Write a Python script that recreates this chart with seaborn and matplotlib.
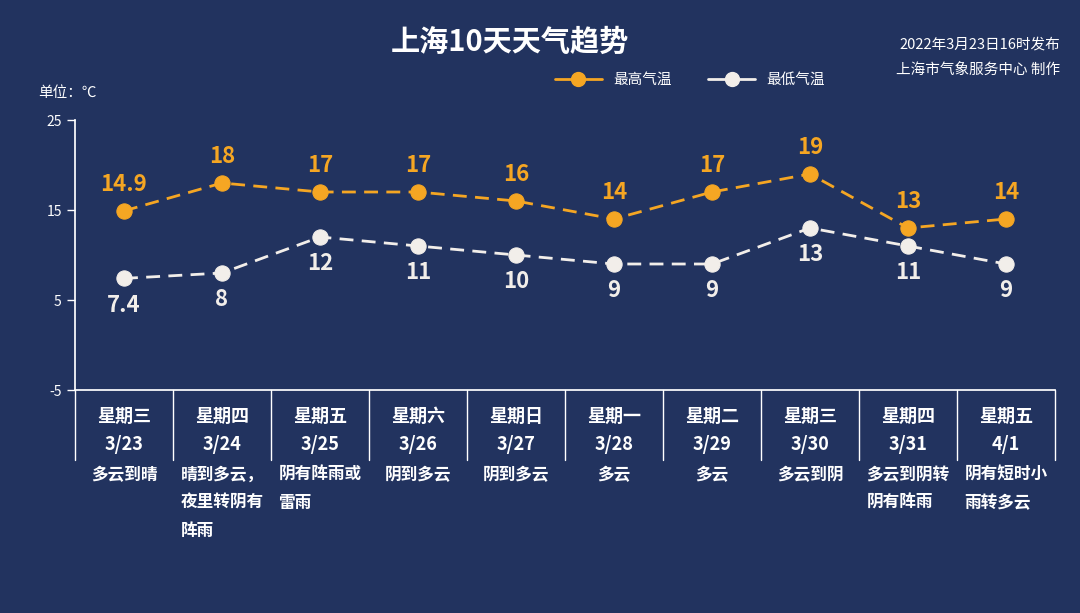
import matplotlib
matplotlib.use("Agg")
import matplotlib.pyplot as plt
import seaborn as sns
import pandas as pd
from matplotlib.lines import Line2D

weekdays = ["星期三","星期四","星期五","星期六","星期日","星期一","星期二","星期三","星期四","星期五"]
dates = ["3/23","3/24","3/25","3/26","3/27","3/28","3/29","3/30","3/31","4/1"]
weather = ["多云到晴","晴到多云，\n夜里转阴有\n阵雨","阴有阵雨或\n雷雨","阴到多云","阴到多云","多云","多云","多云到阴","多云到阴转\n阴有阵雨","阴有短时小\n雨转多云"]
high = [14.9,18,17,17,16,14,17,19,13,14]
low = [7.4,8,12,11,10,9,9,13,11,9]
high_lbl = ["14.9","18","17","17","16","14","17","19","13","14"]
low_lbl = ["7.4","8","12","11","10","9","9","13","11","9"]
yticks = [-5,5,15,25]

sns.set_theme(style="white")
plt.rcParams['font.family'] = ['Noto Sans CJK SC','DejaVu Sans']
plt.rcParams['axes.unicode_minus'] = False
BG = "#22335f"; ORG = "#f5a623"; WHT = "#f2eeea"
fig = plt.figure(figsize=(10.8,6.13), dpi=100, facecolor=BG)
ax = fig.add_axes([75/1080, 1-390/613, 980/1080, 270/613])
ax.set_facecolor(BG)
df = pd.DataFrame({"x":range(10),"high":high,"low":low})
sns.lineplot(data=df, x="x", y="high", ax=ax, color=ORG, lw=2, linestyle=(0,(5,3)),
             marker="o", markersize=11, markeredgecolor=ORG)
sns.lineplot(data=df, x="x", y="low", ax=ax, color=WHT, lw=2, linestyle=(0,(5,3)),
             marker="o", markersize=11, markeredgecolor=WHT)
ax.set_xlim(-0.5,9.5); ax.set_ylim(-5,25)
ax.set_yticks(yticks); ax.set_xticks([])
ax.set_xlabel(""); ax.set_ylabel("")
ax.tick_params(axis='y', colors='white', labelsize=10, length=6, width=1, left=True, direction='out')
for s in ["top","right"]: ax.spines[s].set_visible(False)
for s in ["left","bottom"]: ax.spines[s].set_color("white")
for i in range(10):
    ax.annotate(high_lbl[i], (i, high[i]), xytext=(0,11), textcoords="offset points",
                ha="center", va="bottom", color=ORG, fontsize=16, fontweight="bold")
    ax.annotate(low_lbl[i], (i, low[i]), xytext=(0,-11), textcoords="offset points",
                ha="center", va="top", color=WHT, fontsize=16, fontweight="bold")
tr = ax.get_xaxis_transform()
for i in range(11):
    ax.plot([i-0.5,i-0.5],[0,-70/270], transform=tr, color="white", lw=1, clip_on=False)
for i in range(10):
    ax.text(i, -26/270, weekdays[i], transform=tr, ha="center", va="center", color="white", fontsize=13, fontweight="bold")
    ax.text(i, -54/270, dates[i], transform=tr, ha="center", va="center", color="white", fontsize=13, fontweight="bold")
    ax.text(i, -76/270, weather[i], transform=tr, ha="center", va="top", multialignment="left",
            color="white", fontsize=12, fontweight="bold", linespacing=1.7)
fig.text(510/1080, 1-42/613, "上海10天天气趋势", ha="center", va="center", color="white", fontsize=21, fontweight="bold")
fig.text(1060/1080, 1-45/613, "2022年3月23日16时发布", ha="right", va="center", color="white", fontsize=10.5)
fig.text(1060/1080, 1-70/613, "上海市气象服务中心 制作", ha="right", va="center", color="white", fontsize=10.5)
fig.text(38/1080, 1-93/613, "单位：℃", ha="left", va="center", color="white", fontsize=10.5)
handles = [Line2D([0],[0],color=ORG,lw=2,marker="o",markersize=10),
           Line2D([0],[0],color=WHT,lw=2,marker="o",markersize=10)]
fig.legend(handles, ["最高气温","最低气温"], loc="center", bbox_to_anchor=(690/1080, 1-80/613), ncol=2,
           frameon=False, labelcolor="white", fontsize=10.5, handlelength=3.2, columnspacing=2.5)
fig.savefig("out.png", dpi=100, facecolor=BG)
